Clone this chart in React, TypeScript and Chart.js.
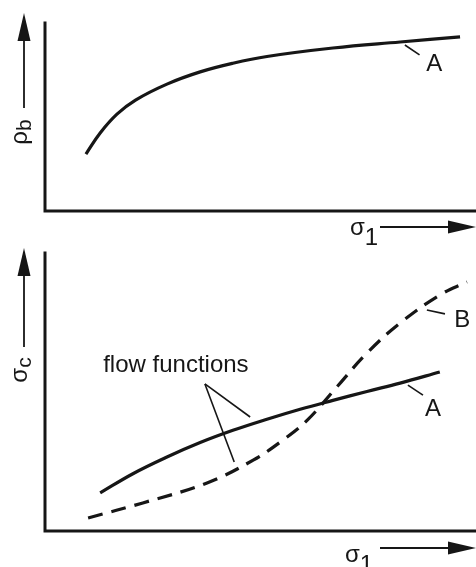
import React, { useEffect, useRef } from "react";
import { Chart, registerables } from "chart.js";

Chart.register(...registerables);

const INK = "#161616";
const FONT = '"Liberation Sans", Arial, Helvetica, sans-serif';

// Upper panel: bulk density ρb rising with major principal stress σ1 (curve A)
const densityX = [9.5, 12.8, 16.7, 21.0, 28.3, 36.0, 43.6, 51.5, 66.8, 82.4, 96.3];
const densityA = [30.3, 41.5, 51.5, 59.0, 67.5, 74.0, 78.6, 82.2, 86.7, 89.9, 92.6];

// Lower panel: unconfined yield strength σc against σ1 — flow functions A and B
const flowAX = [12.8, 20.4, 28.3, 36.0, 43.6, 51.5, 59.2, 66.8, 74.7, 82.4, 91.6];
const flowA = [13.7, 20.6, 26.6, 31.8, 36.2, 40.2, 43.8, 47.0, 50.2, 53.2, 57.2];
const flowBX = [10.0, 22.7, 37.6, 48.3, 55.2, 60.8, 67.7, 74.7, 82.4, 91.6, 97.9];
const flowB = [4.7, 10.1, 17.3, 25.5, 32.7, 39.8, 51.8, 64.0, 74.8, 84.9, 89.6];

const toPoints = (xs: number[], ys: number[]) => xs.map((x, i) => ({ x, y: ys[i] }));

type Leader = [number, number, number, number];
interface Notes {
  yMain: string;
  ySub: string;
  yLabelAt: number;
  yArrow: { tip: number; end: number };
  xMain: string;
  xSub: string;
  xLabel: { left: number; baseline: number; drop: number };
  xArrowY: number;
  labels: { text: string; x: number; y: number; align?: CanvasTextAlign; base?: CanvasTextBaseline }[];
  leaders: Leader[];
}

function arrow(ctx: CanvasRenderingContext2D, x1: number, y1: number, x2: number, y2: number) {
  const headLen = 28;
  const halfW = 6.5;
  const ang = Math.atan2(y2 - y1, x2 - x1);
  const bx = x2 - headLen * Math.cos(ang);
  const by = y2 - headLen * Math.sin(ang);
  ctx.lineWidth = 1.8;
  ctx.beginPath();
  ctx.moveTo(x1, y1);
  ctx.lineTo(bx, by);
  ctx.stroke();
  ctx.beginPath();
  ctx.moveTo(x2, y2);
  ctx.lineTo(bx - halfW * Math.sin(ang), by + halfW * Math.cos(ang));
  ctx.lineTo(bx + halfW * Math.sin(ang), by - halfW * Math.cos(ang));
  ctx.closePath();
  ctx.fill();
}

// Draws the sketch-style frame, axis arrows, symbol titles and curve callouts
const sketchPlugin = {
  id: "sketch",
  afterDraw(chart: any, _args: any, opts: Notes) {
    const { ctx, chartArea: a, scales } = chart;
    const sx = (v: number) => scales.x.getPixelForValue(v);
    const sy = (v: number) => scales.y.getPixelForValue(v);
    ctx.save();
    ctx.strokeStyle = INK;
    ctx.fillStyle = INK;

    // L-shaped axes
    ctx.lineWidth = 3;
    ctx.lineCap = "square";
    ctx.beginPath();
    ctx.moveTo(a.left, a.top);
    ctx.lineTo(a.left, a.bottom);
    ctx.lineTo(a.right, a.bottom);
    ctx.stroke();
    ctx.lineCap = "butt";

    // vertical arrow and rotated title
    const ax = a.left - 21;
    arrow(ctx, ax, a.top + opts.yArrow.end, ax, a.top + opts.yArrow.tip);
    ctx.save();
    ctx.translate(a.left - 18, a.top + opts.yLabelAt);
    ctx.rotate(-Math.PI / 2);
    ctx.font = `24px ${FONT}`;
    const wMain = ctx.measureText(opts.yMain).width;
    ctx.font = `21px ${FONT}`;
    const wSub = ctx.measureText(opts.ySub).width;
    const start = -(wMain + wSub) / 2;
    ctx.textBaseline = "alphabetic";
    ctx.textAlign = "left";
    ctx.font = `24px ${FONT}`;
    ctx.fillText(opts.yMain, start, 0);
    ctx.font = `21px ${FONT}`;
    ctx.fillText(opts.ySub, start + wMain, 4);
    ctx.restore();

    // horizontal arrow and title
    const ay = a.bottom + opts.xArrowY;
    arrow(ctx, a.right - 96, ay, a.right, ay);
    ctx.font = `24px ${FONT}`;
    ctx.textAlign = "left";
    ctx.textBaseline = "alphabetic";
    const lx = a.right - opts.xLabel.left;
    const lb = a.bottom + opts.xLabel.baseline;
    ctx.fillText(opts.xMain, lx, lb);
    const wx = ctx.measureText(opts.xMain).width;
    ctx.fillText(opts.xSub, lx + wx, lb + opts.xLabel.drop);

    // callout leaders
    ctx.lineWidth = 1.6;
    for (const [x1, y1, x2, y2] of opts.leaders) {
      ctx.beginPath();
      ctx.moveTo(sx(x1), sy(y1));
      ctx.lineTo(sx(x2), sy(y2));
      ctx.stroke();
    }

    // callout texts
    ctx.font = `24px ${FONT}`;
    for (const l of opts.labels) {
      ctx.textAlign = l.align ?? "center";
      ctx.textBaseline = l.base ?? "middle";
      ctx.fillText(l.text, sx(l.x), sy(l.y));
    }
    ctx.restore();
  },
};

interface PanelProps {
  top: number;
  height: number;
  padding: { left: number; right: number; top: number; bottom: number };
  datasets: any[];
  notes: Notes;
}

function Panel({ top, height, padding, datasets, notes }: PanelProps) {
  const ref = useRef<HTMLCanvasElement>(null);
  useEffect(() => {
    const chart = new Chart(ref.current!, {
      type: "line",
      data: { datasets },
      options: {
        responsive: false,
        animation: false,
        devicePixelRatio: 1,
        events: [],
        layout: { padding },
        elements: { point: { radius: 0 } },
        scales: {
          x: { type: "linear", min: 0, max: 100, display: false },
          y: { type: "linear", min: 0, max: 100, display: false },
        },
        plugins: {
          legend: { display: false },
          tooltip: { enabled: false },
          sketch: notes,
        } as any,
      },
      plugins: [sketchPlugin],
    });
    return () => chart.destroy();
  }, []);
  return (
    <canvas
      ref={ref}
      width={476}
      height={height}
      style={{ position: "absolute", left: 0, top, width: 476, height }}
    />
  );
}

const curve = (xs: number[], ys: number[], dashed = false) => ({
  data: toPoints(xs, ys),
  borderColor: INK,
  borderWidth: 3.2,
  borderDash: dashed ? [15, 9] : [],
  tension: 0.4,
  fill: false,
});

export default function App() {
  return (
    <div
      style={{
        position: "fixed",
        left: 0,
        top: 0,
        width: 476,
        height: 567,
        background: "#ffffff",
        overflow: "hidden",
      }}
    >
      <Panel
        top={0}
        height={260}
        padding={{ left: 45, right: 0, top: 23, bottom: 49 }}
        datasets={[curve(densityX, densityA)]}
        notes={{
          yMain: "ρ",
          ySub: "b",
          yLabelAt: 109,
          yArrow: { tip: -10, end: 85 },
          xMain: "σ",
          xSub: "1",
          xLabel: { left: 126, baseline: 24, drop: 10 },
          xArrowY: 16,
          labels: [{ text: "A", x: 90.3, y: 78.2 }],
          leaders: [[83.5, 88.3, 86.9, 83.0]],
        }}
      />
      <Panel
        top={235}
        height={332}
        padding={{ left: 45, right: 0, top: 18, bottom: 36 }}
        datasets={[curve(flowAX, flowA), curve(flowBX, flowB, true)]}
        notes={{
          yMain: "σ",
          ySub: "c",
          yLabelAt: 117,
          yArrow: { tip: -5, end: 94 },
          xMain: "σ",
          xSub: "1",
          xLabel: { left: 131, baseline: 31, drop: 10 },
          xArrowY: 17,
          labels: [
            { text: "B", x: 96.8, y: 75.9 },
            { text: "A", x: 90.0, y: 43.9 },
            { text: "flow functions", x: 13.5, y: 57.2, align: "left", base: "alphabetic" },
          ],
          leaders: [
            [88.6, 79.5, 92.8, 78.1],
            [84.2, 52.5, 87.7, 48.9],
            [37.1, 52.9, 47.6, 41.0],
            [37.1, 52.9, 43.9, 24.8],
          ],
        }}
      />
    </div>
  );
}
